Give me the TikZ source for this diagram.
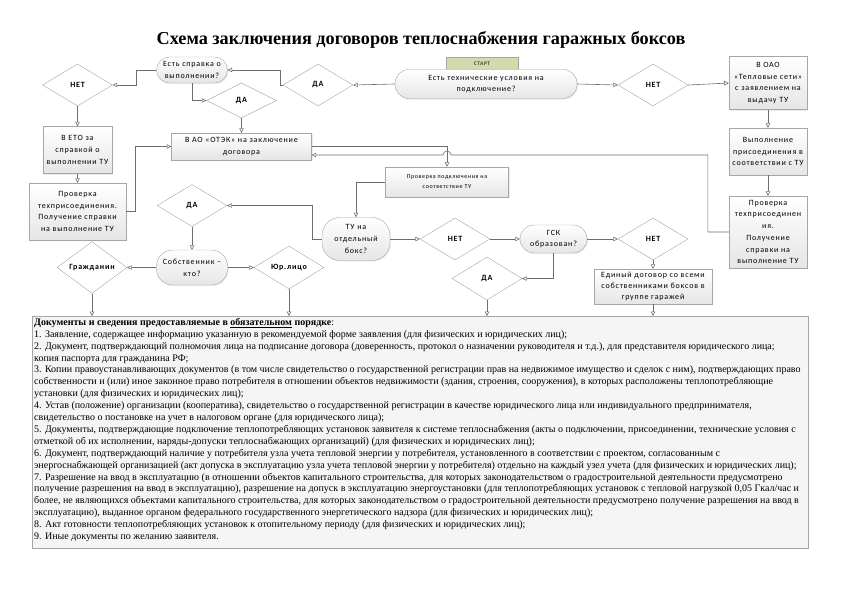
\documentclass[tikz,border=0pt]{standalone}
\usepackage{fontspec}
\setmainfont{Liberation Serif}
\newfontfamily\nodefont[LetterSpace=10]{Carlito}
\usetikzlibrary{shapes.geometric,arrows.meta,shadows}
\definecolor{linegray}{HTML}{6E6E6E}
\definecolor{edgegray}{HTML}{A6A6A6}
\definecolor{startgreen}{HTML}{D4D9AE}
\begin{document}
\begin{tikzpicture}[x=1pt,y=-1pt,
	>={Triangle[open,length=4.5pt,width=4.5pt]},
	conn/.style={->,draw=linegray,line width=0.6pt},
	every node/.style={font=\nodefont\fontsize{8}{11.7}\selectfont,inner sep=1pt,align=center},
	box/.style={draw=edgegray,top color=white,bottom color=black!10,
		drop shadow={opacity=0.15,shadow xshift=1pt,shadow yshift=-1pt}},
	term/.style={box,rounded corners=#1},term/.default=13pt,
	dia/.style={diamond,draw=edgegray,fill=white,minimum width=70pt,minimum height=42pt,
		inner sep=0pt,font=\nodefont\bfseries\fontsize{8}{9}\selectfont}]
	\useasboundingbox (0,0) rectangle (842,595);
	\node[font=\bfseries\fontsize{18.2}{21}\selectfont] (title) at (421,40)
	{Схема заключения договоров теплоснабжения гаражных боксов};
	% upper row
	\node[dia] (net1) at (77.5,85) {НЕТ};
	\node[term,text width=69pt,minimum height=26pt] (sprav) at (192,70) {Есть справка о\\выполнении?};
	\node[dia,minimum height=35pt] (da2) at (241.5,100.5) {ДА};
	\node[dia] (da1) at (318,85) {ДА};
	\node[draw=edgegray,fill=startgreen,minimum width=72pt,minimum height=13pt,
	font=\nodefont\bfseries\fontsize{5.5}{6}\selectfont,text=black!75] (startlbl) at (482,63.5) {СТАРТ};
	\node[term=14pt,text width=180pt,minimum height=29pt] (start) at (486,84) {Есть технические условия на\\подключение?};
	\node[dia] (net2) at (653,85) {НЕТ};
	\node[box,text width=76pt,minimum height=53pt] (voao) at (768,83) {В ОАО\\«Тепловые сети»\\с заявлением на\\выдачу ТУ};
	\node[box,text width=76pt,minimum height=47pt] (vypoln) at (768,151.5) {Выполнение\\присоединения в\\соответствии с ТУ};
	\node[box,text width=76pt,minimum height=72pt] (provR) at (768,232) {Проверка\\техприсоединен\\ия.\\Получение\\справки на\\выполнение ТУ};
	% middle
	\node[box,text width=138pt,minimum height=27pt] (otek) at (241.5,146.5) {В АО «ОТЭК» на заключение\\договора};
	\node[box,text width=67pt,minimum height=47pt] (eto) at (77.5,150) {В ЕТО за\\справкой о\\выполнении ТУ};
	\node[box,text width=95pt,minimum height=57pt] (provL) at (77.5,211.5) {Проверка\\техприсоединения.\\Получение справки\\на выполнение ТУ};
	\node[box,text width=121pt,minimum height=30pt,font=\nodefont\fontsize{6}{10}\selectfont] (provP) at (447,182) {Проверка подключения на\\соответствие ТУ};
	\node[term=18pt,text width=66pt,minimum height=43pt] (tu) at (356,239) {ТУ на\\отдельный\\бокс?};
	\node[dia] (da3) at (192,205.5) {ДА};
	\node[term=16pt,text width=69pt,minimum height=35pt] (sobstv) at (192,267.5) {Собственник –\\кто?};
	\node[dia,minimum height=43pt] (grazh) at (92,267.5) {Гражданин};
	\node[dia,minimum height=43pt] (yur) at (289,267.5) {Юр.лицо};
	\node[dia] (net3) at (455,239) {НЕТ};
	\node[term=14pt,text width=65pt,minimum height=28pt] (gsk) at (553.5,239) {ГСК\\образован?};
	\node[dia,minimum height=43pt] (da4) at (487,278.5) {ДА};
	\node[dia] (net4) at (653,239) {НЕТ};
	\node[box,text width=116pt,minimum height=35pt,font=\nodefont\fontsize{8}{11}\selectfont] (edin) at (653,286.5) {Единый договор со всеми\\собственниками боксов в\\группе гаражей};
	% documents
	\node[draw=edgegray,fill=black!4,minimum width=776pt,minimum height=232pt,anchor=north west,
	drop shadow={opacity=0.15,shadow xshift=1pt,shadow yshift=-1pt}] (docs) at (32,316) {};
	\node[anchor=north west,align=left,inner sep=0pt,font=\fontsize{10}{11.9}\selectfont] (doctext) at (34,318)
	{\textbf{Документы и сведения предоставляемые в \underline{обязательном} порядке}:\\
		1. Заявление, содержащее информацию указанную в рекомендуемой форме заявления (для физических и юридических лиц);\\
		2. Документ, подтверждающий полномочия лица на подписание договора (доверенность, протокол о назначении руководителя и т.д.), для представителя юридического лица;\\
		копия паспорта для гражданина РФ;\\
		3. Копии правоустанавливающих документов (в том числе свидетельство о государственной регистрации прав на недвижимое имущество и сделок с ним), подтверждающих право\\
		собственности и (или) иное законное право потребителя в отношении объектов недвижимости (здания, строения, сооружения), в которых расположены теплопотребляющие\\
		установки (для физических и юридических лиц);\\
		4. Устав (положение) организации (кооператива), свидетельство о государственной регистрации в качестве юридического лица или индивидуального предпринимателя,\\
		свидетельство о постановке на учет в налоговом органе (для юридического лица);\\
		5. Документы, подтверждающие подключение теплопотребляющих установок заявителя к системе теплоснабжения (акты о подключении, присоединении, технические условия с\\
		отметкой об их исполнении, наряды-допуски теплоснабжающих организаций) (для физических и юридических лиц);\\
		6. Документ, подтверждающий наличие у потребителя узла учета тепловой энергии у потребителя, установленного в соответствии с проектом, согласованным с\\
		энергоснабжающей организацией (акт допуска в эксплуатацию узла учета тепловой энергии у потребителя) отдельно на каждый узел учета (для физических и юридических лиц);\\
		7. Разрешение на ввод в эксплуатацию (в отношении объектов капитального строительства, для которых законодательством о градостроительной деятельности предусмотрено\\
		получение разрешения на ввод в эксплуатацию), разрешение на допуск в эксплуатацию энергоустановки (для теплопотребляющих установок с тепловой нагрузкой 0,05 Гкал/час и\\
		более, не являющихся объектами капитального строительства, для которых законодательством о градостроительной деятельности предусмотрено получение разрешения на ввод в\\
		эксплуатацию), выданное органом федерального государственного энергетического надзора (для физических и юридических лиц);\\
		8. Акт готовности теплопотребляющих установок к отопительному периоду (для физических и юридических лиц);\\
		9. Иные документы по желанию заявителя.};
	% connectors
	\draw[conn] (start.west) -- (da1.east);
	\draw[conn] (start.east) -- (net2.west);
	\draw[conn] (net2.east) -- (voao.west);
	\draw[conn] (voao.south) -- (vypoln.north);
	\draw[conn] (vypoln.south) -- (provR.north);
	\coordinate (jmp) at (447,155);
	\draw[conn] (provR.west) -- ++(-21,0) |- ([xshift=4pt]jmp)
	arc[start angle=0,end angle=-180,radius=4] -- (otek.east |- jmp);
	\draw[conn] (otek.east) -| (provP.north);
	\draw[conn] (provP.west) -| (tu.north);
	\draw[conn] (tu.west) -- ++(-10,0) |- (da3.east);
	\draw[conn] (da3.south) -- (sobstv.north);
	\draw[conn] (sobstv.west) -- (grazh.east);
	\draw[conn] (sobstv.east) -- (yur.west);
	\draw[conn] (tu.east) -- (net3.west);
	\draw[conn] (net3.east) -- (gsk.west);
	\draw[conn] (gsk.south) |- (da4.east);
	\draw[conn] (gsk.east) -- (net4.west);
	\draw[conn] (net4.south) -- (edin.north);
	\foreach \n in {grazh,yur,da4,edin}
	\draw[conn] (\n.south) -- (\n.south |- docs.north);
	\draw[conn] (da1.west) -- ++(-3,0) |- (sprav.east);
	\draw[conn] (sprav.west) -- ++(-20,0) |- (net1.east);
	\draw[conn] (sprav.south) |- (da2.west);
	\draw[conn] (da2.south) -- (otek.north);
	\draw[conn] (net1.south) -- (eto.north);
	\draw[conn] (eto.south) -- (provL.north);
	\draw[conn] (provL.east) -- ++(9,0) |- (otek.west);
\end{tikzpicture}
\end{document}
